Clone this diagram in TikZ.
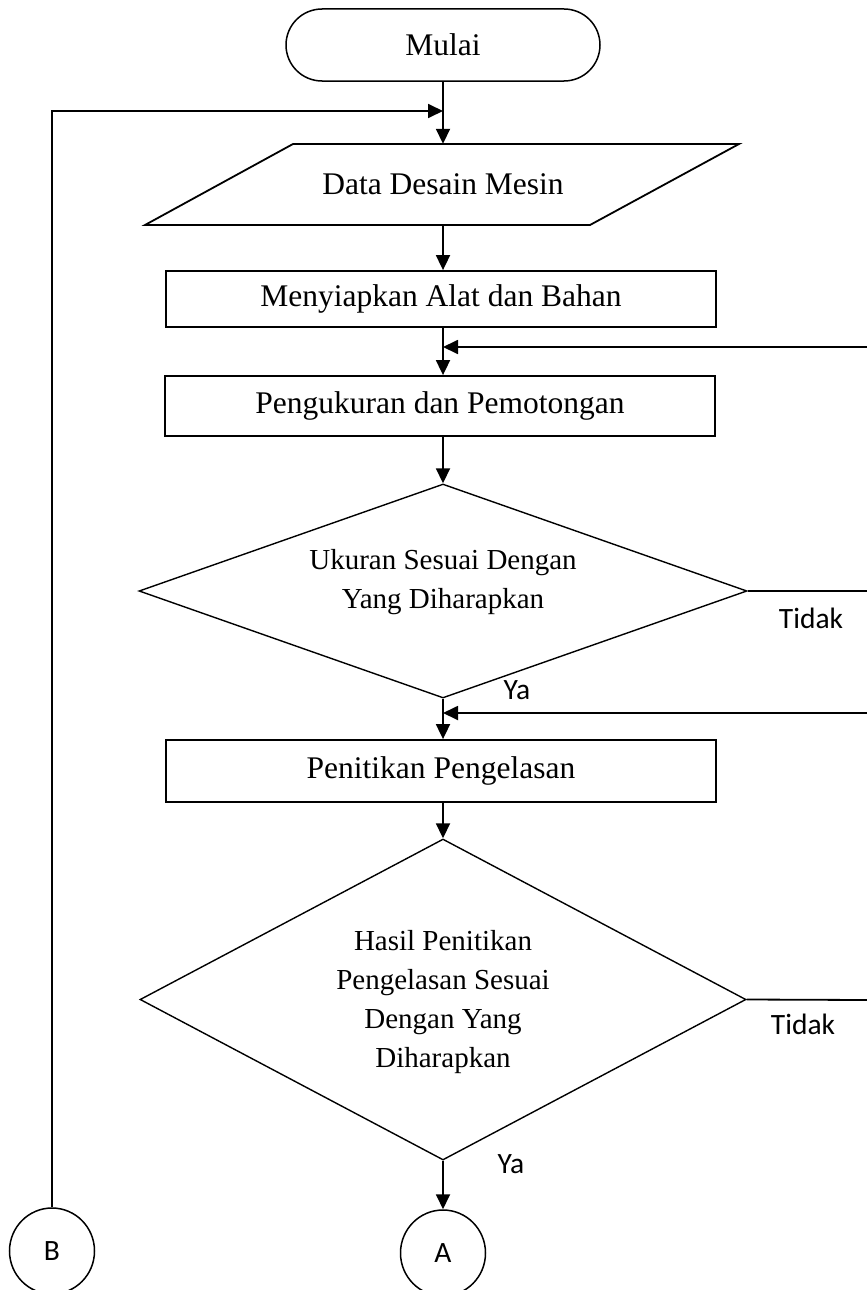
\documentclass[tikz,border=0pt]{standalone}
\usepackage{fontspec}
\setmainfont{Liberation Serif}
\newfontfamily\sansf{Carlito}
\usetikzlibrary{shapes.geometric,arrows.meta}
\begin{document}
\begin{tikzpicture}[x=1pt,y=-1pt,
 box/.style={draw,line width=1.8pt,minimum width=550pt,inner sep=0pt,font=\fontsize{31.5}{37}\selectfont},
 dia/.style={draw,diamond,line width=1.4pt,inner sep=0pt},
 arr/.style={line width=1.8pt,-{Triangle[length=15pt,width=14pt]}},
 ln/.style={line width=1.8pt},
 lab/.style={font=\sansf\fontsize{29.5}{31}\selectfont,inner sep=0pt},
 conn/.style={draw,ellipse,line width=1.5pt,minimum width=85pt,minimum height=86pt,inner sep=0pt,font=\sansf\fontsize{29.5}{31}\selectfont},
 dtext/.style={align=center,font=\fontsize{29}{39}\selectfont,inner sep=0pt}]
\useasboundingbox (0,0) rectangle (867,1290);

% start terminal
\node[draw,rounded corners=36pt,line width=1.5pt,minimum width=314pt,minimum height=72pt,inner sep=0pt,font=\fontsize{31.5}{37}\selectfont] (start) at (443,45) {Mulai};

% data parallelogram
\draw[line width=1.8pt] (293,144) -- (739,144) -- (590,225) -- (145,225) -- cycle;
\node[minimum height=81pt,minimum width=300pt,inner sep=0pt,font=\fontsize{31.5}{37}\selectfont] (data) at (443,184.5) {Data Desain Mesin};

\node[box,minimum height=56pt] (r1) at (441,299) {Menyiapkan Alat dan Bahan};
\node[box,minimum height=60pt] (r2) at (440,406) {Pengukuran dan Pemotongan};
\node[dia,minimum width=608pt,minimum height=214pt] (d1) at (443,591) {};
\node[dtext] (t1) at (443,582) {Ukuran Sesuai Dengan\\Yang Diharapkan};
\node[box,minimum height=62pt] (r3) at (441,771) {Penitikan Pengelasan};
\node[dia,minimum width=606pt,minimum height=321pt] (d2) at (443,999.5) {};
\node[dtext] (t2) at (443,1002) {Hasil Penitikan\\Pengelasan Sesuai\\Dengan Yang\\Diharapkan};
\node[conn] (A) at (443,1253) {A};
\node[conn] (B) at (52,1251) {B};

% labels
\node[lab] (tidak1) at (811,618) {Tidak};
\node[lab] (ya1) at (517,690) {Ya};
\node[lab] (tidak2) at (803,1024) {Tidak};
\node[lab] (ya2) at (511,1164) {Ya};

% coordinates for free ends
\coordinate (m0) at (443,111);
\coordinate (e1) at (867,347);
\coordinate (j1) at (443,347);
\coordinate (e2) at (867,591);
\coordinate (e3) at (867,713);
\coordinate (j3) at (443,713);
\coordinate (e4) at (867,1000);

% connectors
\draw[arr] (start.south) -- (data.north);
\draw[arr] (B.north) |- (m0);
\draw[arr] (data.south) -- (data.south |- r1.north);
\draw[arr] (data.south |- r1.south) -- (data.south |- r2.north);
\draw[arr] (e1) -- (j1);
\draw[arr] (data.south |- r2.south) -- (d1.north);
\draw[ln] (d1.east) -- (e2);
\draw[arr] (d1.south) -- (d1.south |- r3.north);
\draw[arr] (e3) -- (j3);
\draw[arr] (d1.south |- r3.south) -- (d2.north);
\draw[ln] (d2.east) -- (e4);
\draw[arr] (d2.south) -- (A.north);
\end{tikzpicture}
\end{document}
